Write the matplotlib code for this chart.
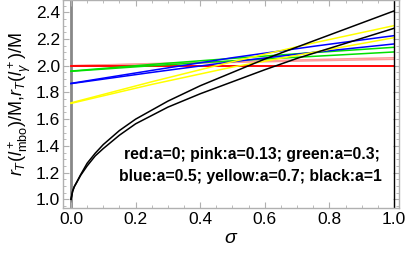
import matplotlib
matplotlib.use("Agg")
import matplotlib.pyplot as plt
from matplotlib.ticker import MultipleLocator, FormatStrFormatter

plt.rcParams['font.family'] = ['Liberation Sans', 'DejaVu Sans']
plt.rcParams['mathtext.fontset'] = 'custom'
plt.rcParams['mathtext.rm'] = 'Liberation Sans'
plt.rcParams['mathtext.it'] = 'Liberation Sans:italic'

# sigma samples for black curves (a=1)
sig_black = [0.0, 0.005, 0.01, 0.0175, 0.03, 0.05, 0.075, 0.1, 0.15, 0.2, 0.3, 0.4, 0.5, 0.6, 0.7, 0.8, 0.9, 1.0]
black_upper = [1.0, 1.06, 1.095, 1.128, 1.185, 1.27, 1.345, 1.41, 1.515, 1.60, 1.735, 1.85, 1.95, 2.05, 2.14, 2.23, 2.32, 2.41]
black_lower = [1.0, 1.06, 1.093, 1.125, 1.18, 1.25, 1.325, 1.38, 1.48, 1.565, 1.69, 1.79, 1.88, 1.97, 2.055, 2.13, 2.205, 2.28]

# sigma samples for other curves
sig = [0.0, 0.25, 0.5, 0.75, 1.0]
red_upper = [2.0, 2.0, 2.0, 2.0, 2.0]
red_lower = [2.0, 2.0, 2.0, 2.0, 2.0]
pink_upper = [2.0, 2.016, 2.031, 2.046, 2.06]
pink_lower = [2.0, 2.013, 2.025, 2.037, 2.048]
green_upper = [1.96, 2.01, 2.055, 2.098, 2.138]
green_lower = [1.958, 2.0, 2.037, 2.07, 2.103]
blue_upper = [1.868, 1.965, 2.06, 2.145, 2.225]
blue_lower = [1.866, 1.95, 2.03, 2.10, 2.163]
yellow_upper = [1.722, 1.88, 2.03, 2.17, 2.30]
yellow_lower = [1.718, 1.86, 1.99, 2.10, 2.21]

fig = plt.figure(figsize=(4.09, 2.62), dpi=100)
ax = fig.add_axes([0.154, 0.2061, 0.8215, 0.7939])

lw = 1.1
ax.plot(sig, pink_upper, color='#ff9a9a', lw=lw)
ax.plot(sig, pink_lower, color='#ff9a9a', lw=lw)
ax.plot(sig, red_upper, color='#ff0000', lw=lw)
ax.plot(sig, red_lower, color='#ff0000', lw=lw)
ax.plot(sig, green_upper, color='#00e000', lw=lw)
ax.plot(sig, green_lower, color='#00e000', lw=lw)
ax.plot(sig, blue_upper, color='#0000ff', lw=lw)
ax.plot(sig, blue_lower, color='#0000ff', lw=lw)
ax.plot(sig, yellow_upper, color='#ffff00', lw=lw)
ax.plot(sig, yellow_lower, color='#ffff00', lw=lw)
ax.plot(sig_black, black_upper, color='black', lw=lw)
ax.plot(sig_black, black_lower, color='black', lw=lw)

ax.axvline(0.0, color='#888888', lw=2.0, zorder=0.5)
ax.axvline(1.0, color='black', lw=1.0)

ax.set_xlim(-0.0248, 1.0155)
ax.set_ylim(0.935, 2.492)

ax.xaxis.set_major_locator(MultipleLocator(0.2))
ax.xaxis.set_minor_locator(MultipleLocator(0.05))
ax.yaxis.set_major_locator(MultipleLocator(0.2))
ax.yaxis.set_minor_locator(MultipleLocator(0.05))
ax.xaxis.set_major_formatter(FormatStrFormatter('%.1f'))
ax.yaxis.set_major_formatter(FormatStrFormatter('%.1f'))

for s in ax.spines.values():
    s.set_color('#b0b0b0')
    s.set_linewidth(1.0)
ax.tick_params(which='both', direction='in', top=True, right=True, colors='#b0b0b0',
               labelcolor='black', labelsize=12.5)
ax.tick_params(which='major', length=4, width=0.8, pad=3)
ax.tick_params(which='minor', length=2, width=0.6)
ax.tick_params(axis='y', pad=2)

ax.set_xlabel(r'$\sigma$', fontsize=14, labelpad=2)
ax.set_ylabel(r'$r_T(l^+_{\mathrm{mbo}})$/M,$r_T(l^+_\gamma)$/M', fontsize=13, labelpad=2)

ax.text(0.559, 1.334, 'red:a=0; pink:a=0.13; green:a=0.3;', fontsize=11.3, fontweight='bold',
        ha='center', va='center')
ax.text(0.557, 1.171, 'blue:a=0.5; yellow:a=0.7; black:a=1', fontsize=11.3, fontweight='bold',
        ha='center', va='center')

fig.savefig('out.png', dpi=100)
